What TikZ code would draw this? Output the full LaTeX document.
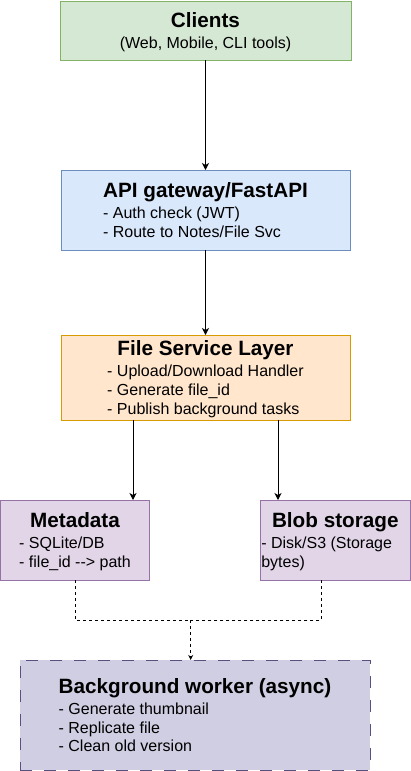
\documentclass[tikz,border=0pt]{standalone}
\usepackage{fontspec}
\setmainfont{Liberation Sans}
\usepackage{xcolor}
\usepackage{tikz}
\usetikzlibrary{arrows.meta}
\usetikzlibrary{positioning}
\definecolor{greenfill}{HTML}{D5E8D4}
\definecolor{greenline}{HTML}{82B366}
\definecolor{bluefill}{HTML}{DAE8FC}
\definecolor{blueline}{HTML}{6C8EBF}
\definecolor{orangefill}{HTML}{FFE6CC}
\definecolor{orangeline}{HTML}{D79B00}
\definecolor{purplefill}{HTML}{E1D5E7}
\definecolor{purpleline}{HTML}{9673A6}
\definecolor{workerfill}{HTML}{D0CEE2}
\definecolor{workerline}{HTML}{56517E}
\newcommand{\ttlfont}{\fontsize{20.7}{24}\selectfont\bfseries}
\newcommand{\boxtitle}[1]{\multicolumn{1}{@{}c@{}}{\rule{0pt}{20.6pt}\ttlfont #1}\\[2.3pt]}
\tikzstyle{layer} = [rectangle,draw,line width=1pt,inner sep=0pt,outer sep=0pt,
font=\fontsize{16}{18.7}\selectfont,text=black]
\tikzstyle{client} = [layer,fill=greenfill,draw=greenline]
\tikzstyle{gateway} = [layer,fill=bluefill,draw=blueline]
\tikzstyle{service} = [layer,fill=orangefill,draw=orangeline]
\tikzstyle{store} = [layer,fill=purplefill,draw=purpleline]
\tikzstyle{worker} = [layer,fill=workerfill,draw=workerline,dash pattern=on 12pt off 12pt]
\tikzstyle{call} = [>={Stealth[length=7pt,width=7pt,inset=2pt]},draw,line width=1pt,black]
\tikzstyle{task} = [>={Stealth[length=5pt,width=5pt,inset=1.5pt]},draw,line width=1pt,black,
dash pattern=on 3pt off 3pt]

\begin{document}
\begin{tikzpicture}[x=1pt,y=-1pt]
	\useasboundingbox (0,0) rectangle (411,771);
	
	\node[client,minimum width=291pt,minimum height=59pt] (cl) at (205.5,30.5)
	{\begin{tabular}{@{}l@{}}\boxtitle{Clients}(Web, Mobile, CLI tools)\end{tabular}};
	\node[gateway,minimum width=289pt,minimum height=80pt] (gw) at (205.5,210)
	{\begin{tabular}{@{}l@{}}\boxtitle{API gateway/FastAPI}- Auth check (JWT)\\- Route to Notes/File Svc\end{tabular}};
	\node[service,minimum width=289pt,minimum height=85pt] (fs) at (205.5,377.5)
	{\begin{tabular}{@{}l@{}}\boxtitle{File Service Layer}- Upload/Download Handler\\- Generate file\_id\\- Publish background tasks\end{tabular}};
	\node[store,minimum width=149pt,minimum height=80pt] (md) at (75,540)
	{\begin{tabular}{@{}l@{}}\boxtitle{Metadata}- SQLite/DB\\- file\_id -{}-> path\end{tabular}};
	\node[store,minimum width=150pt,minimum height=80pt] (bs) at (335.3,540)
	{\begin{tabular}{@{}l@{}}\boxtitle{\makebox[148pt]{Blob storage}}- Disk/S3 (Storage\\bytes)\end{tabular}};
	\node[worker,minimum width=350pt,minimum height=110pt] (bw) at (195,715)
	{\begin{tabular}{@{}l@{}}\boxtitle{Background worker (async)}- Generate thumbnail\\- Replicate file\\- Clean old version\end{tabular}};
	\coordinate (jn) at (190.7,620);
	
	% requests
	\path[call,->] (cl) edge (gw);
	\path[call,->] (gw) edge (fs);
	\draw[call,->] ([xshift=72pt]fs.south west) -- ([xshift=72pt]fs.south west |- md.north);
	\draw[call,->] ([xshift=-72pt]fs.south east) -- ([xshift=-72pt]fs.south east |- bs.north);
	
	% background tasks
	\draw[task] (md.south) |- (jn);
	\draw[task] ([xshift=-14pt]bs.south) |- (jn);
	\draw[task,->] (jn) -- (jn |- bw.north);
	
\end{tikzpicture}
\end{document}
